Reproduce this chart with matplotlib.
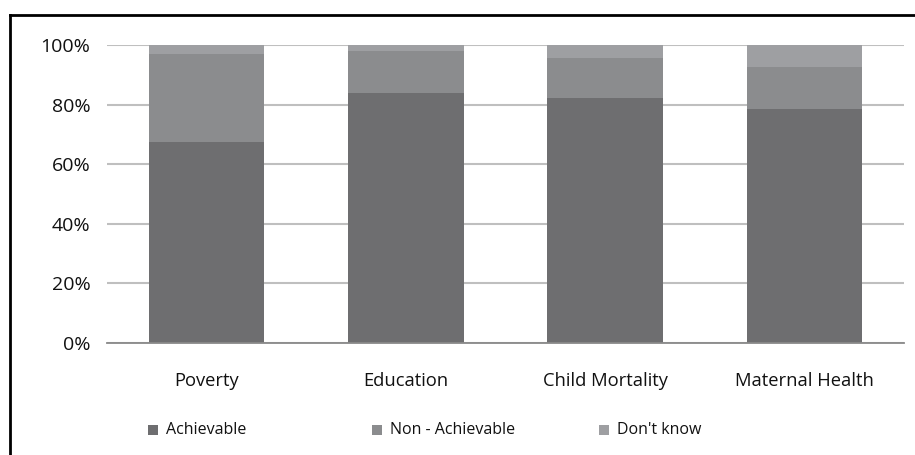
import matplotlib
matplotlib.use("Agg")
import matplotlib.pyplot as plt
from matplotlib.lines import Line2D
from matplotlib.patches import Rectangle
from matplotlib.ticker import FuncFormatter

categories = ["Poverty", "Education", "Child Mortality", "Maternal Health"]
achievable = [67.4, 83.9, 82.3, 78.5]
non_achievable = [29.6, 14.1, 13.3, 14.1]
dont_know = [3.0, 2.0, 4.4, 7.4]
series_names = ["Achievable", "Non - Achievable", "Don't know"]
colors = ["#6e6e70", "#8b8c8e", "#9e9fa2"]
y_ticks = [0, 20, 40, 60, 80, 100]

plt.rcParams["font.family"] = ["Open Sans", "DejaVu Sans"]

W, H = 915, 455
fig = plt.figure(figsize=(W / 100, H / 100), dpi=100)
ax = fig.add_axes([107 / W, 1 - 343 / H, (904 - 107) / W, (343 - 45) / H])

x = range(len(categories))
bottom2 = [a + b for a, b in zip(achievable, non_achievable)]
ax.bar(x, achievable, width=0.58, color=colors[0], zorder=3)
ax.bar(x, non_achievable, width=0.58, bottom=achievable, color=colors[1], zorder=3)
ax.bar(x, dont_know, width=0.58, bottom=bottom2, color=colors[2], zorder=3)

ax.set_xlim(-0.5, len(categories) - 0.5)
ax.set_ylim(0, 100)
ax.set_yticks(y_ticks)
ax.yaxis.set_major_formatter(FuncFormatter(lambda v, p: f"{int(v)}%"))
ax.set_xticks(list(x))
ax.set_xticklabels(categories)
ax.grid(axis="y", color="#bfbfbf", linewidth=1.5, zorder=0)
ax.tick_params(axis="both", length=0, colors="#111111")
ax.tick_params(axis="y", pad=12, labelsize=14)
ax.tick_params(axis="x", pad=21, labelsize=13.2)
for side in ["top", "right", "left"]:
    ax.spines[side].set_visible(False)
ax.spines["bottom"].set_color("#898989")
ax.spines["bottom"].set_linewidth(1.3)
ax.spines["bottom"].set_zorder(4)

# legend along the bottom: square swatch followed by the series name
legend_x = [148, 372, 599]
for xpos, name, c in zip(legend_x, series_names, colors):
    fig.add_artist(Rectangle((xpos / W, 1 - 435 / H), 10 / W, 10 / H,
                             facecolor=c, edgecolor="none",
                             transform=fig.transFigure))
    fig.text((xpos + 18) / W, 1 - 430 / H, name, color="#111111",
             fontsize=11.5, ha="left", va="center")

# outer frame (top and left edges)
fig.add_artist(Line2D([9.5 / W, 1.0], [1 - 14.5 / H] * 2, color="black",
                      linewidth=2, transform=fig.transFigure))
fig.add_artist(Line2D([9.5 / W] * 2, [0, 1 - 14.5 / H], color="black",
                      linewidth=2, transform=fig.transFigure))

fig.savefig("out.png", dpi=100)
